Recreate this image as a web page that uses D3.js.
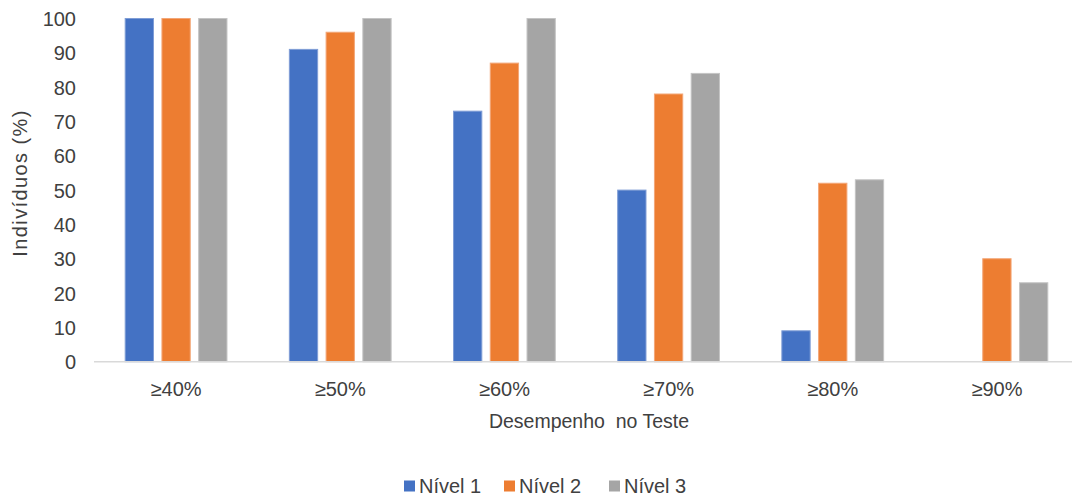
<!DOCTYPE html>
<html>
<head>
<meta charset="utf-8">
<script src="https://cdn.jsdelivr.net/npm/d3@7"></script>
<style>
  html, body { margin: 0; padding: 0; background: #fff; }
  svg { display: block; font-family: "Liberation Sans", Arial, sans-serif; }
</style>
</head>
<body>
<svg id="chart" width="1072" height="500"></svg>
<script>
// Share of individuals reaching each performance threshold, by level
const categories = ["≥40%", "≥50%", "≥60%", "≥70%", "≥80%", "≥90%"];
const seriesNames = ["Nível 1", "Nível 2", "Nível 3"];
const nivel1 = [100, 91, 73, 50, 9, 0];
const nivel2 = [100, 96, 87, 78, 52, 30];
const nivel3 = [100, 100, 100, 84, 53, 23];
const yTicks = [0, 10, 20, 30, 40, 50, 60, 70, 80, 90, 100];
const colors = ["#4472C4", "#ED7D31", "#A5A5A5"];
const strokes = ["#7F9DD6", "#F3A677", "#C4C4C4"];
const textColor = "#404040";
const fontSize = 20;

const series = [nivel1, nivel2, nivel3];

const svg = d3.select("#chart");
const margin = { left: 94, right: 1079, top: 18.5, bottom: 361.7 };

const x = d3.scaleBand()
  .domain(categories)
  .range([margin.left, margin.right])
  .paddingInner(0.38)
  .paddingOuter(0.19);

const xs = d3.scaleBand()
  .domain(seriesNames)
  .range([0, x.bandwidth()])
  .paddingInner(0.23);

const y = d3.scaleLinear()
  .domain([0, 100])
  .range([margin.bottom, margin.top]);

// bars
seriesNames.forEach((name, si) => {
  svg.append("g")
    .selectAll("rect")
    .data(categories.map((c, i) => ({ c, v: series[si][i] })))
    .join("rect")
    .attr("x", d => x(d.c) + xs(name))
    .attr("y", d => y(d.v))
    .attr("width", xs.bandwidth())
    .attr("height", d => y(0) - y(d.v))
    .attr("fill", colors[si])
    .attr("stroke", d => d.v > 0 ? strokes[si] : "none")
    .attr("stroke-width", 1);
});

// baseline
svg.append("line")
  .attr("x1", margin.left).attr("x2", margin.right)
  .attr("y1", y(0)).attr("y2", y(0))
  .attr("stroke", "#D9D9D9").attr("stroke-width", 1.5);

// y axis labels
const yAxis = d3.axisLeft(y).tickValues(yTicks).tickSize(0).tickPadding(0);
const gy = svg.append("g").attr("transform", "translate(76,0)").call(yAxis);
gy.select(".domain").remove();
gy.selectAll("text")
  .attr("font-size", fontSize)
  .attr("font-family", "Liberation Sans, Arial, sans-serif")
  .attr("fill", textColor)
  .attr("dy", "0.35em");

// x axis labels
const xAxis = d3.axisBottom(x).tickSize(0).tickPadding(0);
const gx = svg.append("g").attr("transform", "translate(0,389)").call(xAxis);
gx.select(".domain").remove();
gx.selectAll("text")
  .attr("font-size", fontSize)
  .attr("font-family", "Liberation Sans, Arial, sans-serif")
  .attr("fill", textColor)
  .attr("dy", "0.35em");

// axis titles
svg.append("text")
  .attr("x", 589).attr("y", 421)
  .attr("dy", "0.35em")
  .attr("text-anchor", "middle")
  .attr("font-size", 19.5)
  .attr("fill", textColor)
  .style("white-space", "pre")
  .text("Desempenho  no Teste");

svg.append("text")
  .attr("transform", "translate(20,183) rotate(-90)")
  .attr("dy", "0.35em")
  .attr("text-anchor", "middle")
  .attr("font-size", fontSize)
  .attr("letter-spacing", "1.4px")
  .attr("fill", textColor)
  .text("Indivíduos (%)");

// legend
const legendX = [404, 504, 609];
const legend = svg.append("g");
seriesNames.forEach((name, i) => {
  const g = legend.append("g").attr("transform", `translate(${legendX[i]},486)`);
  g.append("rect").attr("x", 0).attr("y", -5.5).attr("width", 11).attr("height", 11).attr("fill", colors[i]);
  g.append("text")
    .attr("x", 15).attr("y", 0).attr("dy", "0.35em")
    .attr("font-size", fontSize)
    .attr("fill", textColor)
    .text(name);
});
</script>
</body>
</html>
